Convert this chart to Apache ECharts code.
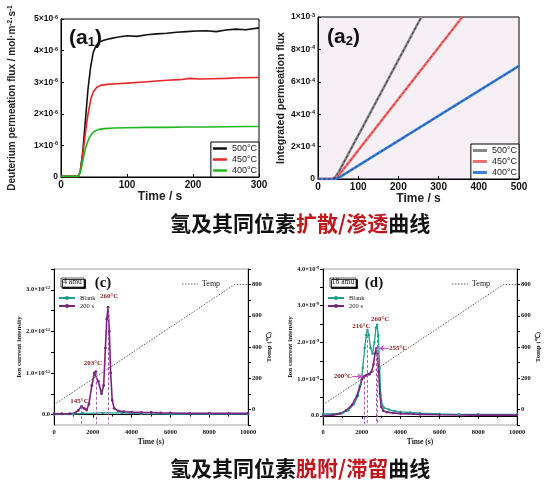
<!DOCTYPE html>
<html>
<head>
<meta charset="utf-8">
<script src="https://cdn.jsdelivr.net/npm/echarts@6/dist/echarts.min.js"></script>
<style>
  html, body { margin: 0; padding: 0; background: #fff; }
  #main { width: 551px; height: 496px; }
</style>
</head>
<body>
<div id="main"></div>
<script>
// (a1) deuterium permeation flux, units of 1e-6 mol m^-2 s^-1
var a1Flux500 = [[0,0.02],[26,0.02],[29,0.15],[33,0.8],[37,1.8],[41,2.8],[45,3.5],[49,3.95],[53,4.15],[58,4.27],[65,4.33],[75,4.38],[85,4.42],[100,4.47],[115,4.45],[130,4.5],[145,4.53],[160,4.55],[175,4.58],[190,4.6],[205,4.62],[220,4.63],[235,4.6],[250,4.65],[265,4.68],[280,4.66],[300,4.72]];
var a1Flux450 = [[0,0.02],[26,0.02],[29,0.15],[33,0.7],[37,1.4],[41,2.0],[45,2.45],[49,2.7],[54,2.83],[60,2.9],[70,2.93],[85,2.95],[100,2.97],[120,3.0],[140,3.03],[160,3.06],[180,3.08],[195,3.12],[210,3.1],[230,3.11],[250,3.12],[270,3.14],[300,3.15]];
var a1Flux400 = [[0,0.02],[26,0.02],[29,0.12],[33,0.5],[37,0.9],[41,1.15],[45,1.32],[50,1.43],[56,1.5],[65,1.53],[80,1.55],[100,1.56],[130,1.57],[160,1.57],[190,1.58],[220,1.58],[250,1.59],[280,1.6],[300,1.6]];
// (a2) integrated permeation flux, units of 1e-4
var a2Int500 = [[0,0],[36,0],[44,0.15],[52,0.45],[257,10]];
var a2Int450 = [[0,0],[38,0],[46,0.1],[54,0.3],[359,10]];
var a2Int400 = [[0,0],[40,0],[48,0.05],[56,0.15],[500,6.98]];
var tempNames = ['500°C', '450°C', '400°C'];

// (c) 4 amu, units of 1e-12
var cBlank = [[0,0.0],[1000,0.01],[1500,0.03],[2500,0.04],[3500,0.04],[4500,0.02],[6000,0.01],[8000,0.01],[10000,0.01]];
var c200s = [[0,0.02],[400,0.02],[800,0.02],[1100,0.04],[1250,0.1],[1420,0.2],[1550,0.15],[1680,0.11],[1800,0.25],[1950,0.7],[2080,1.0],[2160,1.03],[2280,0.8],[2450,0.5],[2560,0.7],[2650,1.6],[2720,2.3],[2790,2.58],[2850,2.0],[2920,1.0],[3000,0.35],[3100,0.15],[3300,0.09],[3600,0.07],[4000,0.06],[4500,0.05],[5000,0.05],[5500,0.04],[6000,0.04],[7000,0.03],[8000,0.03],[9000,0.03],[10000,0.03]];
var cPeaks = [['145°C',1420,0.2],['203°C',2160,1.03],['260°C',2790,2.58]];

// (d) 18 amu, units of 1e-9
var dBlank = [[0,0.05],[500,0.05],[1000,0.08],[1300,0.15],[1600,0.32],[1800,0.55],[1950,0.85],[2050,1.3],[2150,1.85],[2230,2.2],[2290,2.34],[2360,2.2],[2450,1.85],[2550,1.69],[2650,2.0],[2730,2.4],[2790,2.48],[2850,2.2],[2920,1.3],[2980,0.55],[3050,0.3],[3150,0.22],[3400,0.17],[3700,0.13],[4000,0.11],[4500,0.09],[5000,0.07],[6000,0.05],[7000,0.04],[8000,0.04],[10000,0.04]];
var d200s = [[0,0.0],[500,0.02],[900,0.06],[1200,0.15],[1500,0.3],[1750,0.55],[1900,0.8],[2000,0.98],[2100,1.07],[2200,1.1],[2300,1.12],[2400,1.13],[2500,1.2],[2600,1.4],[2680,1.7],[2750,1.84],[2800,1.7],[2870,1.2],[2930,0.6],[3000,0.25],[3100,0.14],[3300,0.1],[3600,0.08],[4000,0.06],[5000,0.04],[6000,0.03],[8000,0.02],[10000,0.02]];
var dBlankPeaks = [['216°C',2290,2.34],['260°C',2790,2.48]];
var d200Peaks = [[2150,1.07],[2750,1.84]];
var dArrows = [['200°C',[1030,1.07],[1500,1.07],[2030,1.07]],['255°C',[3870,1.84],[3380,1.84],[2880,1.84]]];

// temperature ramp shared by (c) and (d)
var tempRamp = [[0,30],[9300,800],[10000,800]];

var cYLabels = [0, 1, 2, 3];
var dYLabels = [0, 1, 2, 3, 4];
var tempLabels = [0, 200, 400, 600, 800];
var tempTicks = [-100, 0, 100, 200, 300, 400, 500, 600, 700, 800, 900];

var SANS = 'Liberation Sans, Arial, sans-serif';
var SERIF = 'Liberation Serif, Times New Roman, serif';
var CJK = 'Noto Sans CJK SC, sans-serif';
var TEAL = '#1f9e8f';
var PURPLE = '#7a237f';
var DARKRED = '#8b1a1a';

function supRich(fs, ff) {
  return {
    m: { fontSize: fs, fontFamily: ff, fontWeight: 'bold', color: '#111' },
    s: { fontSize: Math.round(fs * 0.65 * 10) / 10, fontFamily: ff, fontWeight: 'bold', color: '#111', verticalAlign: 'top' }
  };
}
function sci(m, e) { return '{m|' + m + '×10}{s|' + e + '}'; }

var chart = echarts.init(document.getElementById('main'));

function topX(grid, max, name, gap) {
  return {
    gridIndex: grid, type: 'value', min: 0, max: max, interval: 100,
    axisLine: { lineStyle: { color: '#000', width: 1 } },
    axisTick: { inside: true, length: 3, lineStyle: { color: '#000' } },
    axisLabel: { fontSize: 10, fontWeight: 'bold', color: '#111', fontFamily: SANS, margin: 3 },
    splitLine: { show: false },
    name: name, nameLocation: 'middle', nameGap: gap,
    nameTextStyle: { fontSize: 12, fontWeight: 'bold', fontFamily: SANS, color: '#222' }
  };
}
function botX(grid) {
  return {
    gridIndex: grid, type: 'value', min: 0, max: 10000, interval: 2000,
    axisLine: { lineStyle: { color: '#000', width: 1 } },
    axisTick: { length: 3, lineStyle: { color: '#000' } },
    minorTick: { show: true, splitNumber: 2, length: 2, lineStyle: { color: '#000' } },
    axisLabel: { fontSize: 6.5, fontWeight: 'bold', color: '#111', fontFamily: SERIF, margin: 4,
      formatter: function (v) { return String(v); } },
    splitLine: { show: false },
    name: 'Time (s)', nameLocation: 'middle', nameGap: 13,
    nameTextStyle: { fontSize: 7.5, fontWeight: 'bold', fontFamily: SERIF, color: '#222' }
  };
}
function botYLeft(grid, max, labels, fmt, gap) {
  var ticks = [];
  for (var i = 0; i <= max * 2; i++) ticks.push(i / 2);
  return {
    gridIndex: grid, type: 'value', min: -0.25, max: max,
    axisLine: { show: true, lineStyle: { color: '#000', width: 1 } },
    axisTick: { show: true, length: 3, customValues: ticks, lineStyle: { color: '#000' } },
    axisLabel: { customValues: labels, formatter: fmt, margin: 4, rich: supRich(6.5, SERIF) },
    splitLine: { show: false },
    name: 'Ion current intensity', nameLocation: 'middle', nameGap: gap, nameRotate: 90,
    nameTextStyle: { fontSize: 7, fontWeight: 'bold', fontFamily: SERIF, color: '#222' }
  };
}
function botYTemp(grid, gap) {
  return {
    gridIndex: grid, type: 'value', position: 'right', min: -100, max: 900,
    axisLine: { show: true, lineStyle: { color: '#000', width: 1 } },
    axisTick: { show: true, length: 3, customValues: tempTicks, lineStyle: { color: '#000' } },
    axisLabel: { customValues: tempLabels, fontSize: 6.5, fontWeight: 'bold', color: '#111', fontFamily: SERIF, margin: 4 },
    splitLine: { show: false },
    name: 'Temp (℃)', nameLocation: 'middle', nameGap: gap, nameRotate: 90,
    nameTextStyle: { fontSize: 7, fontWeight: 'bold', fontFamily: SERIF, color: '#222' }
  };
}

function lineSeries(name, xi, yi, data, color, width, extra) {
  var s = {
    name: name, type: 'line', xAxisIndex: xi, yAxisIndex: yi, data: data,
    symbol: 'none', smooth: false, lineStyle: { color: color, width: width }, itemStyle: { color: color },
    animation: false
  };
  for (var k in extra) s[k] = extra[k];
  return s;
}

function vLines(points) {
  return points.map(function (p) {
    return [{ coord: [p[0], p[1]] }, { coord: [p[0], -0.22] }];
  });
}
function peakLabels(peaks, offsets) {
  return peaks.map(function (p, i) {
    return { name: p[0], coord: [p[1], p[2]], label: { offset: offsets[i] } };
  });
}
var peakLabelStyle = { show: true, position: 'top', distance: 2, formatter: '{b}', fontSize: 7, fontWeight: 'bold', fontFamily: SERIF, color: DARKRED };

function tempKey(x, y) {
  return [
    { type: 'line', shape: { x1: x, y1: y, x2: x + 16, y2: y }, style: { stroke: '#333', lineWidth: 0.8, lineDash: [1.5, 1.5] } },
    { type: 'text', x: x + 20, y: y, style: { text: 'Temp', fontSize: 8, fontFamily: SERIF, fill: '#222', verticalAlign: 'middle' } }
  ];
}
function amuBox(x, w, label) {
  return [
    { type: 'rect', shape: { x: x, y: 278, width: w, height: 9 }, style: { fill: '#fff', stroke: '#333', lineWidth: 0.8, shadowColor: '#000', shadowOffsetX: 1.5, shadowOffsetY: 1.5, shadowBlur: 0 } },
    { type: 'text', x: x + w / 2, y: 282.5, style: { text: label, fontSize: 7.5, fontFamily: SERIF, fill: '#111', align: 'center', verticalAlign: 'middle' } }
  ];
}
var subRich = { b: { fontSize: 21, fontWeight: 'bold', fontFamily: SANS, fill: '#111' }, s: { fontSize: 13, fontWeight: 'bold', fontFamily: SANS, fill: '#111', verticalAlign: 'bottom' } };
var topLegend = {
  orient: 'vertical', backgroundColor: '#fff', borderColor: '#000', borderWidth: 1,
  padding: [2, 2, 2, 2], itemGap: 2, itemWidth: 14, itemHeight: 2.5, icon: 'rect', selectedMode: false,
  textStyle: { fontSize: 9, fontFamily: SANS, color: '#222', lineHeight: 9 }
};
function withPos(base, extra) {
  var o = {};
  for (var k in base) o[k] = base[k];
  for (var j in extra) o[j] = extra[j];
  return o;
}

var option = {
  animation: false,
  backgroundColor: '#fff',
  title: [
    {
      text: '{k|氢及其同位素}{r|扩散/渗透}{k|曲线}', left: 170, top: 213, padding: 0,
      textStyle: { rich: {
        k: { fontSize: 21, fontFamily: CJK, color: '#111' },
        r: { fontSize: 21, fontFamily: CJK, color: '#c0161c' } } }
    },
    {
      text: '{k|氢及其同位素}{r|脱附/滞留}{k|曲线}', left: 170, top: 458, padding: 0,
      textStyle: { rich: {
        k: { fontSize: 21, fontFamily: CJK, color: '#111' },
        r: { fontSize: 21, fontFamily: CJK, color: '#c0161c' } } }
    }
  ],
  grid: [
    { left: 61, top: 19, width: 198, height: 158, show: true, borderColor: '#000', borderWidth: 1, backgroundColor: '#fff', outerBoundsMode: 'none' },
    { left: 318, top: 17, width: 201, height: 162, show: true, borderColor: '#000', borderWidth: 1, backgroundColor: '#f6eff5', outerBoundsMode: 'none' },
    { left: 54, top: 269, width: 194, height: 156, show: true, borderColor: '#888', borderWidth: 0.8, outerBoundsMode: 'none' },
    { left: 323, top: 269, width: 194, height: 156, show: true, borderColor: '#888', borderWidth: 0.8, outerBoundsMode: 'none' }
  ],
  xAxis: [topX(0, 300, 'Time / s', 13), topX(1, 500, 'Time / s', 14), botX(2), botX(3)],
  yAxis: [
    {
      gridIndex: 0, type: 'value', min: 0, max: 5, interval: 1,
      axisLine: { show: true, lineStyle: { color: '#000' } },
      axisTick: { show: true, inside: true, length: 3, lineStyle: { color: '#000' } },
      axisLabel: { margin: 3, rich: supRich(8.5, SANS), formatter: function (v) { return v === 0 ? '{m|0}' : sci(v, '-6'); } },
      splitLine: { show: false },
      name: 'Deuterium permeation flux / mol·m{s|-2}·s{s|-1}', nameLocation: 'middle', nameGap: 44, nameRotate: 90,
      nameTextStyle: { fontSize: 10, fontWeight: 'bold', fontFamily: SANS, color: '#222',
        rich: { s: { fontSize: 6.5, fontWeight: 'bold', fontFamily: SANS, color: '#222', verticalAlign: 'top' } } }
    },
    {
      gridIndex: 1, type: 'value', min: 0, max: 10, interval: 2,
      axisLine: { show: true, lineStyle: { color: '#000' } },
      axisTick: { show: true, inside: true, length: 3, lineStyle: { color: '#000' } },
      axisLabel: { margin: 3, rich: supRich(8.5, SANS), formatter: function (v) { return v === 0 ? '{m|0}' : (v === 10 ? sci(1, '-3') : sci(v, '-4')); } },
      splitLine: { show: false },
      name: 'Integrated permeation flux', nameLocation: 'middle', nameGap: 31, nameRotate: 90,
      nameTextStyle: { fontSize: 10.5, fontWeight: 'bold', fontFamily: SANS, color: '#222' }
    },
    botYLeft(2, 3.5, cYLabels, function (v) { return v === 0 ? '{m|0.0}' : sci(v.toFixed(1), '-12'); }, 28),
    botYTemp(2, 15),
    botYLeft(3, 4, dYLabels, function (v) { return v === 0 ? '{m|0.0}' : sci(v.toFixed(1), '-9'); }, 25),
    botYTemp(3, 16)
  ],
  legend: [
    withPos(topLegend, {
      data: ['a1_500', 'a1_450', 'a1_400'], right: 292, bottom: 319,
      formatter: function (n) { return tempNames[['a1_500', 'a1_450', 'a1_400'].indexOf(n)]; }
    }),
    withPos(topLegend, {
      data: ['a2_500', 'a2_450', 'a2_400'], right: 32, bottom: 317, itemHeight: 3,
      formatter: function (n) { return tempNames[['a2_500', 'a2_450', 'a2_400'].indexOf(n)]; }
    }),
    {
      data: ['c_blank', 'c_200'], orient: 'vertical', left: 58, top: 294, padding: 0, itemGap: 0,
      formatter: function (n) { return n === 'c_blank' ? 'Blank' : '200 s'; },
      itemWidth: 16, itemHeight: 5, selectedMode: false,
      textStyle: { fontSize: 6.5, fontFamily: SERIF, color: '#222', lineHeight: 8 }
    },
    {
      data: ['d_blank', 'd_200'], orient: 'vertical', left: 327, top: 294, padding: 0, itemGap: 0,
      formatter: function (n) { return n === 'd_blank' ? 'Blank' : '200 s'; },
      itemWidth: 16, itemHeight: 5, selectedMode: false,
      textStyle: { fontSize: 6.5, fontFamily: SERIF, color: '#222', lineHeight: 8 }
    }
  ],
  graphic: [
    { type: 'text', left: 69, top: 28, style: { rich: subRich, text: '{b|(a}{s|1}{b|)}' } },
    { type: 'text', left: 327, top: 27, style: { rich: subRich, text: '{b|(a}{s|2}{b|)}' } },
    { type: 'text', x: 103, y: 283, style: { text: '(c)', fontSize: 15, fontWeight: 'bold', fontFamily: SERIF, fill: '#111', align: 'center', verticalAlign: 'middle' } },
    { type: 'text', x: 374, y: 283, style: { text: '(d)', fontSize: 15, fontWeight: 'bold', fontFamily: SERIF, fill: '#111', align: 'center', verticalAlign: 'middle' } }
  ].concat(amuBox(61, 23, '4 amu'), amuBox(330, 26, '18 amu'), tempKey(182, 284), tempKey(452, 284)),
  series: [
    // (a1)
    lineSeries('a1_500', 0, 0, a1Flux500, '#111111', 1.6),
    lineSeries('a1_450', 0, 0, a1Flux450, '#e8262a', 1.6),
    lineSeries('a1_400', 0, 0, a1Flux400, '#22b822', 1.6),
    // (a2) solid bands with dashed fits
    lineSeries('a2_500', 1, 1, a2Int500, '#8a8a8a', 2.6),
    lineSeries('a2_450', 1, 1, a2Int450, '#f07272', 2.6),
    lineSeries('a2_400', 1, 1, a2Int400, '#3a80dc', 2.6),
    lineSeries('a2_500f', 1, 1, a2Int500, '#3a3a3a', 1, { lineStyle: { color: '#3a3a3a', width: 1, type: [3, 2] } }),
    lineSeries('a2_450f', 1, 1, a2Int450, '#c03030', 1, { lineStyle: { color: '#c03030', width: 1, type: [3, 2] } }),
    lineSeries('a2_400f', 1, 1, a2Int400, '#1a4fa0', 1, { lineStyle: { color: '#1a4fa0', width: 1, type: [3, 2] } }),
    // (c)
    lineSeries('c_temp', 2, 3, tempRamp, '#333', 0.8, { lineStyle: { color: '#333', width: 0.8, type: [1.5, 1.5] } }),
    lineSeries('c_blank', 2, 2, cBlank, TEAL, 1.2, { symbol: 'circle', symbolSize: 2.5, showSymbol: true }),
    lineSeries('c_200', 2, 2, c200s, PURPLE, 1.6, {
      symbol: 'circle', symbolSize: 2.8, showSymbol: true,
      markLine: { silent: true, symbol: 'none', label: { show: false }, lineStyle: { color: '#a65bb0', width: 1, type: [3, 2] },
        data: vLines(cPeaks.map(function (p) { return [p[1], p[2]]; })) },
      markPoint: { symbol: 'circle', symbolSize: 0.1, itemStyle: { color: 'rgba(0,0,0,0)' }, label: peakLabelStyle,
        data: peakLabels(cPeaks, [[-2, 0], [-3, -3], [1, -6]]) }
    }),
    // (d)
    lineSeries('d_temp', 3, 5, tempRamp, '#333', 0.8, { lineStyle: { color: '#333', width: 0.8, type: [1.5, 1.5] } }),
    lineSeries('d_blank', 3, 4, dBlank, TEAL, 1.3, {
      symbol: 'circle', symbolSize: 2.5, showSymbol: true,
      markLine: { silent: true, symbol: 'none', label: { show: false }, lineStyle: { color: '#3aa89a', width: 1, type: [3, 2] },
        data: vLines(dBlankPeaks.map(function (p) { return [p[1], p[2]]; })) },
      markPoint: { symbol: 'circle', symbolSize: 0.1, itemStyle: { color: 'rgba(0,0,0,0)' }, label: peakLabelStyle,
        data: peakLabels(dBlankPeaks, [[-6, 2], [3, 0]]) }
    }),
    lineSeries('d_200', 3, 4, d200s, PURPLE, 1.6, {
      symbol: 'circle', symbolSize: 2.5, showSymbol: true,
      markLine: { silent: true, symbol: 'none', label: { show: false }, lineStyle: { color: '#a65bb0', width: 1, type: [3, 2] },
        data: vLines(d200Peaks).concat(dArrows.map(function (a) {
          return [{ coord: a[2], symbol: 'none', lineStyle: { color: '#d050d0', type: 'solid', width: 1 } },
                  { coord: a[3], symbol: 'arrow', symbolSize: 5, lineStyle: { color: '#d050d0', type: 'solid', width: 1 } }];
        })) },
      markPoint: { symbol: 'circle', symbolSize: 0.1, itemStyle: { color: 'rgba(0,0,0,0)' },
        label: { show: true, position: 'inside', formatter: '{b}', fontSize: 7, fontWeight: 'bold', fontFamily: SERIF, color: DARKRED },
        data: dArrows.map(function (a) { return { name: a[0], coord: a[1] }; }) }
    })
  ]
};

chart.setOption(option);
</script>
</body>
</html>
